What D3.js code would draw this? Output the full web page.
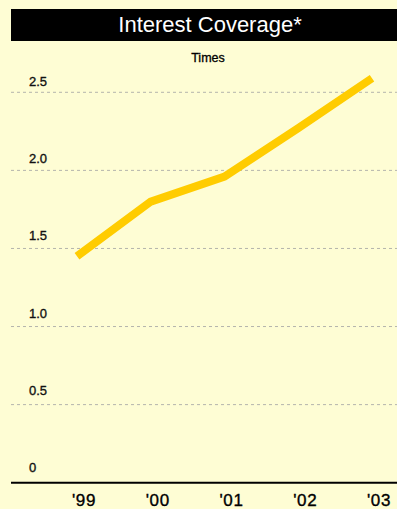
<!DOCTYPE html>
<html><head><meta charset="utf-8">
<script src="https://cdn.jsdelivr.net/npm/d3@7"></script>
<style>
html,body{margin:0;padding:0;background:#FEFDD4;}
svg{display:block;font-family:"Liberation Sans",Arial,Helvetica,sans-serif;}
</style></head><body>
<script>
const years = ["'99","'00","'01","'02","'03"];
const values = [1.45, 1.80, 1.96, 2.27, 2.59];
const yTicks = [0, 0.5, 1.0, 1.5, 2.0, 2.5];
const yTickLabels = ["0","0.5","1.0","1.5","2.0","2.5"];
const title = "Interest Coverage*";
const unitLabel = "Times";

const W = 397, H = 509;
const svg = d3.select("body").append("svg").attr("width", W).attr("height", H);
svg.append("rect").attr("width", W).attr("height", H).attr("fill", "#FEFDD4");

// title bar
svg.append("rect").attr("x", 11).attr("y", 9).attr("width", W - 11).attr("height", 32).attr("fill", "#000");
svg.append("text").attr("x", 210).attr("y", 32).attr("text-anchor", "middle")
  .attr("fill", "#fff").attr("font-size", 22).text(title);
svg.append("text").attr("x", 208).attr("y", 61.5).attr("text-anchor", "middle")
  .attr("fill", "#000").attr("stroke", "#000").attr("stroke-width", 0.3)
  .attr("font-size", 12.5).text(unitLabel);

const y = d3.scaleLinear().domain([0, 2.5]).range([482.7, 92.3]);
const yLab = d3.scaleLinear().domain([0, 2.5]).range([472, 86]);
const x = d3.scalePoint().domain(years).range([77, 372]);

// gridlines
svg.append("g").selectAll("line").data(yTicks.filter(d => d > 0)).join("line")
  .attr("x1", 11).attr("x2", W).attr("y1", d => y(d)).attr("y2", d => y(d))
  .attr("stroke", "#b4b4ac").attr("stroke-width", 1).attr("stroke-dasharray", "3,3");

// y labels
svg.append("g").selectAll("text").data(yTicks).join("text")
  .attr("x", 29).attr("y", d => yLab(d)).attr("font-size", 13).attr("fill", "#111")
  .attr("stroke", "#111").attr("stroke-width", 0.35)
  .text((d, i) => yTickLabels[i]);

// baseline
svg.append("line").attr("x1", 11).attr("x2", W).attr("y1", y(0)).attr("y2", y(0))
  .attr("stroke", "#000").attr("stroke-width", 2);

// x labels
svg.append("g").selectAll("text").data(years).join("text")
  .attr("x", d => x(d) + 7).attr("y", 506).attr("text-anchor", "middle")
  .attr("font-size", 17).attr("letter-spacing", 0.6).attr("fill", "#000")
  .attr("stroke", "#000").attr("stroke-width", 0.35).text(d => d);

// line
const line = d3.line().x((d, i) => x(years[i])).y(d => y(d));
svg.append("path").datum(values).attr("d", line).attr("fill", "none")
  .attr("stroke", "#FFCC00").attr("stroke-width", 8).attr("stroke-linejoin", "miter");
</script>
</body></html>
